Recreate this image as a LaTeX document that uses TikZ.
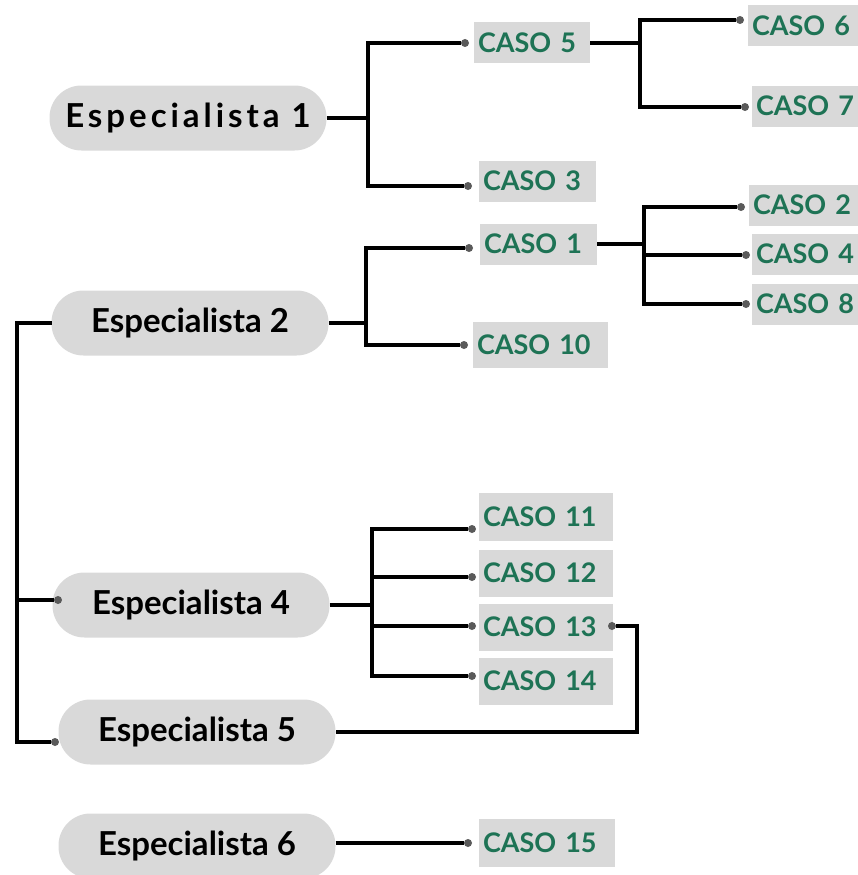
\documentclass[tikz,border=0pt]{standalone}
\usepackage{fontspec}
\setmainfont{Lato}
\usetikzlibrary{positioning}
\definecolor{pillgray}{RGB}{217,217,217}
\definecolor{casogreen}{RGB}{30,115,85}
\definecolor{pingray}{RGB}{90,90,90}

\begin{document}
\begin{tikzpicture}[x=1pt, y=-1pt, outer sep=0,
    pill/.style={fill=pillgray, rounded corners=32pt, minimum width=277pt, minimum height=65pt, font=\fontsize{33}{33}\selectfont\bfseries},
    caso/.style={fill=pillgray, anchor=west, minimum height=41pt, inner xsep=4pt, text width=#1, align=left, text=casogreen, font=\fontsize{27}{27}\selectfont\bfseries},
    caso/.default=108pt,
    pin/.style={circle, fill=pingray, inner sep=0, minimum size=8pt},
    link/.style={line width=3.5pt}]
        \useasboundingbox (0,0) rectangle (857,875);
        % especialistas
        \node [pill, font=\fontsize{33}{33}\selectfont\bfseries\addfontfeatures{LetterSpace=12}] (e1) at (188,118) {Especialista 1};
        \node [pill] (e2) at (190,323) {Especialista 2};
        \node [pill] (e4) at (191,605) {Especialista 4};
        \node [pill] (e5) at (197,732) {Especialista 5};
        \node [pill] (e6) at (197,846) {Especialista 6};
        % casos
        \node [caso=108pt] (c5) at (474,43) {CASO 5};
        \node [caso=109pt] (c3) at (479,181) {CASO 3};
        \node [caso=107pt] (c6) at (748,26) {CASO 6};
        \node [caso=102pt] (c7) at (752,106) {CASO 7};
        \node [caso=109pt] (c1) at (480,244) {CASO 1};
        \node [caso=127pt, minimum height=46pt] (c10) at (473,345) {CASO 10};
        \node [caso=101pt] (c2) at (749,205) {CASO 2};
        \node [caso=98pt] (c4) at (752,254) {CASO 4};
        \node [caso=98pt] (c8) at (752,304) {CASO 8};
        \node [caso=126pt, minimum height=48pt] (c11) at (479,517) {CASO 11};
        \node [caso=126pt, minimum height=47pt] (c12) at (479,573) {CASO 12};
        \node [caso=126pt, minimum height=47pt] (c13) at (479,627) {CASO 13};
        \node [caso=126pt, minimum height=47pt] (c14) at (479,681) {CASO 14};
        \node [caso=128pt, minimum height=48pt] (c15) at (479,843) {CASO 15};
        % pins
        \node [pin] (d5) at (465,43) {};
        \node [pin] (d3) at (468,186) {};
        \node [pin] (d6) at (740,20) {};
        \node [pin] (d7) at (745,107) {};
        \node [pin] (d1) at (469,248) {};
        \node [pin] (d10) at (464,345) {};
        \node [pin] (d2) at (741,207) {};
        \node [pin] (d4) at (746,255) {};
        \node [pin] (d8) at (746,304) {};
        \node [pin] (d11) at (472,529) {};
        \node [pin] (d12) at (472,577) {};
        \node [pin] (d13) at (472,626) {};
        \node [pin] (d14) at (472,676) {};
        \node [pin] (d13r) at (612,626) {};
        \node [pin] (d15) at (468,843) {};
        \node [pin] (p4) at (58,600) {};
        \node [pin] (p5) at (55,742) {};
        % junctions
        \coordinate (j1) at (368,118);
        \coordinate (j5) at (640,43);
        \coordinate (j2) at (366,323);
        \coordinate (jb) at (644,244);
        \coordinate (j4) at (372,605);
        \coordinate (k13) at (637,732);
        \coordinate (spine) at (17,742);
        % links
        \draw[link] (e1) -- (j1);
        \draw[link] (d5) -| (j1) |- (d3);
        \draw[link] (c5) -- (j5);
        \draw[link] (d6) -| (j5) |- (d7);
        \draw[link] (e2) -- (j2);
        \draw[link] (d1) -| (j2) |- (d10);
        \draw[link] (c1) -- (jb);
        \draw[link] (d2) -| (jb) |- (d8);
        \draw[link] (jb |- d4) -- (d4);
        \draw[link] (e4) -- (j4);
        \draw[link] (d11) -| (j4) |- (d14);
        \draw[link] (j4 |- d12) -- (d12);
        \draw[link] (j4 |- d13) -- (d13);
        \draw[link] (d13r) -| (k13) -- (e5);
        \draw[link] (e2) -| (spine) -- (p5);
        \draw[link] (spine |- p4) -- (p4);
        \draw[link] (e6.east |- d15) -- (d15);
\end{tikzpicture}
\end{document}
